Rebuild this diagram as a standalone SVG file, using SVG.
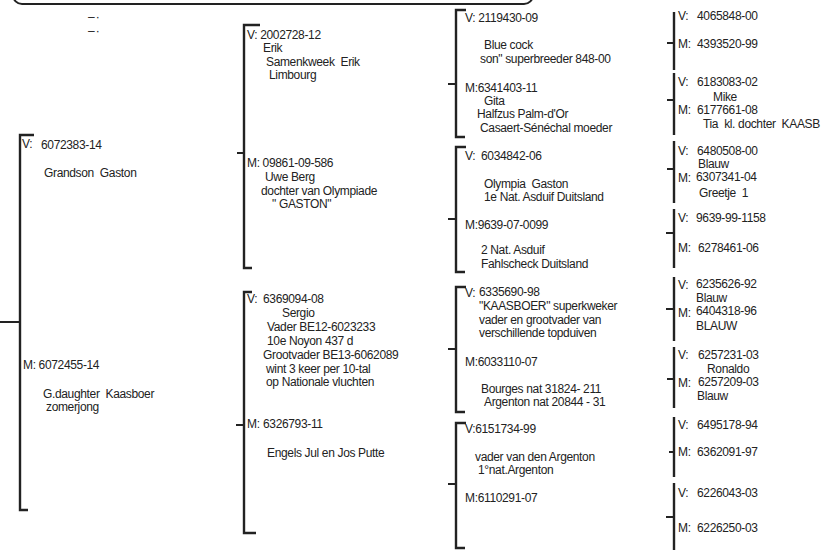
<svg xmlns="http://www.w3.org/2000/svg" width="837" height="550" viewBox="0 0 837 550">
<style>
text{font-family:"Liberation Sans",Arial,sans-serif;font-size:12px;letter-spacing:-0.35px;fill:#222;white-space:pre}
.mk{font-size:12px;letter-spacing:1px}
.br{fill:none;stroke:#222;stroke-width:2.4}
.st{fill:none;stroke:#222;stroke-width:2}
.frame{fill:none;stroke:#222;stroke-width:2}
</style>
<rect x="13" y="-40" width="520" height="44" rx="9" class="frame"/>
<text class="mk" x="88" y="21">–·</text>
<text class="mk" x="88" y="35">–·</text>
<g id="connectors">
<path class="br" d="M34,135 H20 V510 H28"/><path class="st" d="M0,322 H20"/>
<path class="br" d="M260,25 H244 V268 H252"/><path class="st" d="M237,153 H244"/>
<path class="br" d="M252,292 H244 V533 H256"/><path class="st" d="M236,425 H244"/>
<path class="br" d="M466,10 H456 V137 H465"/><path class="st" d="M448,84 H456"/>
<path class="br" d="M466,147 H456 V272 H465"/><path class="st" d="M448,219 H456"/>
<path class="br" d="M466,287 H456 V412 H465"/><path class="st" d="M448,349 H456"/>
<path class="br" d="M466,423 H456 V548 H465"/><path class="st" d="M448,484 H456"/>
<path class="br" d="M674,12 V70"/><path class="st" d="M667,43 H674"/>
<path class="br" d="M674,73 V135"/><path class="st" d="M667,100 H674"/>
<path class="br" d="M674,141 V203"/><path class="st" d="M667,169 H674"/>
<path class="br" d="M674,209 V268"/><path class="st" d="M666,233 H674"/>
<path class="br" d="M674,277 V341"/><path class="st" d="M666,309 H674"/>
<path class="br" d="M674,347 V408"/><path class="st" d="M667,379 H674"/>
<path class="br" d="M674,417 V477"/><path class="st" d="M669,452 H674"/>
<path class="br" d="M674,483 V550"/><path class="st" d="M666,517 H674"/>
</g>
<g id="n-subject-v">
<text x="22" y="148">V:</text><text x="41" y="149">6072383-14</text>
<text x="44" y="177">Grandson  Gaston</text>
</g>
<g id="n-subject-m">
<text x="23" y="369">M: 6072455-14</text>
<text x="43" y="398">G.daughter  Kaasboer</text>
<text x="46" y="411">zomerjong</text>
</g>
<g id="n-v-v">
<text x="247" y="39">V: 2002728-12</text>
<text x="263" y="52">Erik</text>
<text x="266" y="66">Samenkweek  Erik</text>
<text x="269" y="79">Limbourg</text>
</g>
<g id="n-v-m">
<text x="247" y="167">M: 09861-09-586</text>
<text x="265" y="181">Uwe Berg</text>
<text x="261" y="195">dochter van Olympiade</text>
<text x="272" y="208">" GASTON"</text>
</g>
<g id="n-m-v">
<text x="247" y="303">V:</text><text x="263" y="303">6369094-08</text>
<text x="282" y="317">Sergio</text>
<text x="267" y="331">Vader BE12-6023233</text>
<text x="267" y="345">10e Noyon 437 d</text>
<text x="263" y="359">Grootvader BE13-6062089</text>
<text x="266" y="373">wint 3 keer per 10-tal</text>
<text x="266" y="386">op Nationale vluchten</text>
</g>
<g id="n-m-m">
<text x="247" y="428">M:</text><text x="263" y="428">6326793-11</text>
<text x="267" y="457">Engels Jul en Jos Putte</text>
</g>
<g id="n-vv">
<text x="465" y="22">V: 2119430-09</text>
<text x="484" y="49">Blue cock</text>
<text x="480" y="63">son" superbreeder 848-00</text>
<text x="465" y="92">M:6341403-11</text>
<text x="484" y="105">Gita</text>
<text x="477" y="118">Halfzus Palm-d'Or</text>
<text x="480" y="132">Casaert-Sénéchal moeder</text>
</g>
<g id="n-vm">
<text x="465" y="160">V:</text><text x="481" y="160">6034842-06</text>
<text x="484" y="188">Olympia  Gaston</text>
<text x="484" y="201">1e Nat. Asduif Duitsland</text>
<text x="465" y="229">M:9639-07-0099</text>
<text x="481" y="254">2 Nat. Asduif</text>
<text x="481" y="268">Fahlscheck Duitsland</text>
</g>
<g id="n-mv">
<text x="465" y="297">V:</text><text x="479" y="296">6335690-98</text>
<text x="479" y="310">"KAASBOER" superkweker</text>
<text x="479" y="324">vader en grootvader van</text>
<text x="479" y="337">verschillende topduiven</text>
<text x="465" y="366">M:6033110-07</text>
<text x="481" y="393">Bourges nat 31824- 211</text>
<text x="484" y="406">Argenton nat 20844 - 31</text>
</g>
<g id="n-mm">
<text x="465" y="433">V:6151734-99</text>
<text x="475" y="461">vader van den Argenton</text>
<text x="478" y="474">1°nat.Argenton</text>
<text x="465" y="502">M:6110291-07</text>
</g>
<g id="g1">
<text x="678" y="20">V:</text><text x="697" y="20">4065848-00</text>
<text x="678" y="48">M:</text><text x="697" y="48">4393520-99</text>
</g>
<g id="g2">
<text x="678" y="86">V:</text><text x="697" y="86">6183083-02</text>
<text x="713" y="101">Mike</text>
<text x="678" y="114">M:</text><text x="697" y="114">6177661-08</text>
<text x="703" y="128">Tia  kl. dochter  KAASB</text>
</g>
<g id="g3">
<text x="678" y="155">V:</text><text x="697" y="155">6480508-00</text>
<text x="698" y="168">Blauw</text>
<text x="678" y="182">M:</text><text x="696" y="181">6307341-04</text>
<text x="699" y="197">Greetje  1</text>
</g>
<g id="g4">
<text x="678" y="222">V:</text><text x="696" y="222">9639-99-1158</text>
<text x="678" y="252">M:</text><text x="698" y="252">6278461-06</text>
</g>
<g id="g5">
<text x="678" y="289">V:</text><text x="696" y="288">6235626-92</text>
<text x="696" y="302">Blauw</text>
<text x="678" y="317">M:</text><text x="696" y="315">6404318-96</text>
<text x="696" y="330">BLAUW</text>
</g>
<g id="g6">
<text x="678" y="359">V:</text><text x="698" y="359">6257231-03</text>
<text x="707" y="373">Ronaldo</text>
<text x="678" y="387">M:</text><text x="698" y="386">6257209-03</text>
<text x="697" y="400">Blauw</text>
</g>
<g id="g7">
<text x="678" y="429">V:</text><text x="697" y="429">6495178-94</text>
<text x="678" y="456">M:</text><text x="697" y="456">6362091-97</text>
</g>
<g id="g8">
<text x="678" y="497">V:</text><text x="697" y="497">6226043-03</text>
<text x="678" y="532">M:</text><text x="697" y="532">6226250-03</text>
</g>
</svg>
